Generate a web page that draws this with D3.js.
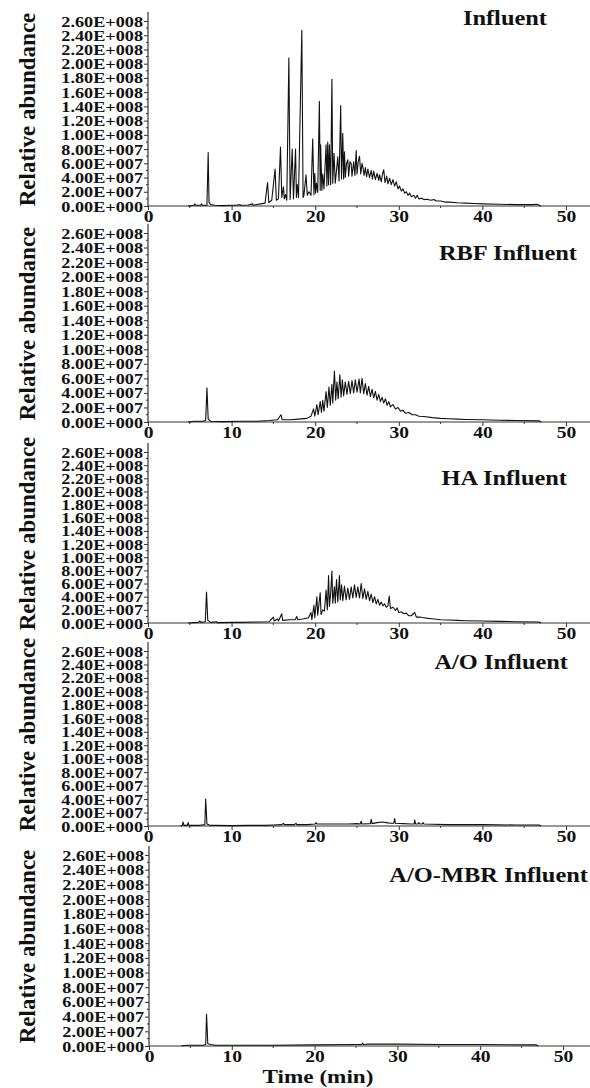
<!DOCTYPE html>
<html>
<head>
<meta charset="utf-8">
<script src="https://cdn.jsdelivr.net/npm/d3@7"></script>
<style>
  body { margin: 0; background: #fff; }
  svg text { font-family: "Liberation Serif", "Times New Roman", serif; font-weight: bold; fill: #111; }
</style>
</head>
<body>
<svg id="chart" width="590" height="1088"></svg>
<script>
// values are in units of 1e7 (relative abundance), time in minutes
const influent = [
  [4.8,0],[5.5,0.1],[5.6,0.3],[5.7,0.1],[6.3,0.1],[6.4,0.3],[6.5,0.1],[7.05,0.1],[7.2,7.5],[7.3,0.5],[7.5,0.2],
  [8,0.1],[9,0.05],[10,0.1],[10.5,0.1],[11,0.2],[11.1,0.1],[12,0.15],[12.5,0.3],[12.6,0.1],[13,0.2],[13.5,0.3],
  [14,0.4],[14.3,3.3],[14.45,0.5],[14.8,0.8],[15.2,5.2],[15.35,0.8],[15.6,1.0],[15.85,8.3],[16.0,1.2],[16.2,2.7],
  [16.3,1.0],[16.45,1.6],[16.6,0.8],[16.85,20.8],[17.0,0.9],[17.25,8.0],[17.4,1.0],[17.65,8.0],[17.75,1.2],
  [17.85,3.0],[18.0,1.2],[18.4,24.7],[18.55,1.2],[18.65,1.5],[18.9,4.4],[19.05,1.5],[19.25,2.0],[19.5,1.5],
  [19.7,9.4],[19.85,1.6],[19.95,4.6],[20.05,1.8],[20.15,3.2],[20.3,1.9],[20.5,14.7],[20.6,2.2],[20.65,8.6],
  [20.8,2.2],[20.9,4.5],[21.05,2.4],[21.3,8.6],[21.4,2.8],[21.5,9.0],[21.6,3.0],[21.7,8.6],[21.85,3.0],
  [22.0,17.8],[22.1,3.2],[22.25,7.4],[22.4,3.2],[22.55,5.0],[22.7,6.9],[22.85,3.5],[23.05,14.1],[23.15,3.8],
  [23.3,10.2],[23.4,3.8],[23.5,7.6],[23.6,4.0],[23.75,6.0],[23.9,6.5],[24.0,4.2],[24.15,6.2],[24.3,6.0],
  [24.4,4.2],[24.6,6.2],[24.75,4.3],[24.9,7.8],[25.0,4.5],[25.15,6.2],[25.3,7.0],[25.45,4.5],[25.6,6.0],
  [25.7,5.5],[25.85,4.3],[26.0,5.4],[26.15,4.1],[26.3,5.2],[26.5,4.0],[26.7,5.0],[26.85,3.8],[27.0,4.9],
  [27.2,3.7],[27.4,4.6],[27.6,3.6],[27.7,4.4],[27.9,3.4],[28.05,4.5],[28.2,5.1],[28.35,3.3],[28.55,4.2],
  [28.7,3.1],[28.9,3.9],[29.1,3.0],[29.3,3.7],[29.5,2.8],[29.7,3.4],[29.9,2.4],[30.1,2.8],[30.3,2.1],
  [30.5,2.4],[30.7,1.8],[30.9,2.0],[31.1,1.5],[31.3,1.8],[31.5,1.3],[31.8,1.5],[32.0,1.1],[32.2,1.5],
  [32.4,1.0],[32.7,1.1],[33.0,0.9],[33.4,0.95],[33.8,0.8],[34.2,0.9],[34.5,0.7],[35,0.7],[35.5,0.55],
  [36,0.55],[37,0.45],[38,0.4],[39,0.35],[40,0.3],[42,0.25],[44,0.2],[46,0.2],[46.5,0.25],[46.8,0.1],[47,0]
];
const rbfInfluent = [
  [4.8,0],[5.5,0.1],[6.5,0.1],[6.9,0.2],[7.05,4.7],[7.2,0.4],[7.5,0.1],[9,0.05],[11,0.1],[13,0.1],[14.5,0.2],
  [15.5,0.3],[15.9,1.0],[16.05,0.3],[17,0.3],[18,0.4],[19,0.5],[19.5,0.8],[19.8,1.8],[19.95,0.8],[20.2,2.4],
  [20.35,1.0],[20.6,2.8],[20.75,1.3],[20.9,3.0],[21.05,1.5],[21.3,4.2],[21.45,2.0],[21.65,4.8],[21.8,2.3],
  [22.0,5.2],[22.1,2.6],[22.3,7.0],[22.45,3.0],[22.6,5.5],[22.75,3.2],[22.95,6.5],[23.1,3.4],[23.25,5.8],
  [23.4,3.6],[23.6,5.5],[23.8,3.8],[24.0,5.6],[24.2,3.9],[24.4,5.7],[24.6,4.0],[24.8,5.8],[25.0,4.1],
  [25.25,5.9],[25.4,4.0],[25.6,6.0],[25.8,3.9],[26.0,5.3],[26.2,3.7],[26.4,4.9],[26.6,3.5],[26.8,4.5],
  [27.0,3.3],[27.2,4.2],[27.4,3.0],[27.6,3.8],[27.8,2.8],[28.0,3.4],[28.2,2.6],[28.4,3.2],[28.6,2.3],
  [28.8,2.8],[29.0,2.1],[29.3,2.4],[29.6,1.8],[29.9,2.0],[30.2,1.5],[30.5,1.6],[30.8,1.2],[31.2,1.3],
  [31.6,1.0],[32.0,1.0],[32.4,0.8],[33,0.75],[34,0.6],[35,0.5],[36,0.45],[37,0.4],[38,0.35],[40,0.3],
  [42,0.25],[44,0.2],[46.8,0.15],[47,0]
];
const haInfluent = [
  [4.8,0],[6,0.1],[6.2,0.3],[6.35,0.1],[6.85,0.2],[7.0,4.7],[7.15,0.4],[7.5,0.1],[8.2,0.2],[8.3,0.05],[10,0.1],
  [11,0.1],[13,0.15],[14.5,0.2],[15.0,0.9],[15.1,0.3],[15.5,0.6],[15.6,0.3],[16.0,1.4],[16.1,0.4],[17,0.5],
  [17.6,0.5],[17.8,1.0],[17.9,0.5],[18.5,0.6],[19.2,0.8],[19.5,1.6],[19.6,0.5],[19.85,2.7],[19.95,0.8],
  [20.2,4.0],[20.3,1.2],[20.6,4.6],[20.7,1.3],[20.9,2.0],[21.1,1.8],[21.3,5.0],[21.45,2.0],[21.6,7.2],
  [21.7,2.5],[21.85,4.5],[22.0,7.9],[22.1,3.0],[22.3,5.5],[22.4,3.0],[22.55,6.6],[22.7,3.2],[22.9,7.2],
  [23.0,3.5],[23.15,5.8],[23.3,3.4],[23.5,5.6],[23.7,3.5],[23.9,5.3],[24.1,3.6],[24.3,5.5],[24.5,3.8],
  [24.7,5.8],[24.9,3.9],[25.1,5.5],[25.3,3.8],[25.5,6.0],[25.7,3.7],[25.9,5.2],[26.1,3.6],[26.3,4.8],
  [26.5,3.4],[26.7,4.4],[26.9,3.1],[27.1,4.0],[27.3,2.9],[27.5,3.6],[27.7,2.7],[27.9,3.2],[28.1,2.6],
  [28.3,2.9],[28.5,2.4],[28.7,2.6],[28.85,4.1],[29.0,2.2],[29.3,2.4],[29.6,1.9],[29.8,2.3],[30.0,1.6],
  [30.3,1.7],[30.6,1.4],[30.9,1.5],[31.2,1.1],[31.5,1.1],[31.9,1.6],[32.1,0.9],[32.5,0.9],[33,0.8],
  [33.5,0.7],[34,0.65],[35,0.5],[36,0.45],[37,0.4],[38,0.35],[40,0.3],[42,0.25],[44,0.2],[46.8,0.15],[47,0]
];
const aoInfluent = [
  [3.9,0],[4.1,0.1],[4.2,0.6],[4.3,0.1],[4.7,0.1],[4.8,0.5],[4.9,0.1],[6.2,0.1],[6.8,0.2],[6.9,4.0],
  [7.05,0.3],[7.4,0.1],[8,0.1],[10,0.05],[12,0.1],[14,0.1],[15,0.15],[16,0.2],[16.2,0.4],[16.3,0.2],
  [17.5,0.2],[17.7,0.4],[17.8,0.2],[19,0.2],[20,0.3],[20.1,0.5],[20.2,0.3],[22,0.3],[24,0.3],[25,0.35],
  [25.4,0.3],[25.5,0.7],[25.6,0.3],[26.6,0.35],[26.7,1.0],[26.8,0.35],[27.4,0.5],[28,0.6],[28.5,0.5],
  [29,0.4],[29.4,0.4],[29.5,1.1],[29.6,0.4],[30.5,0.35],[31.5,0.3],[31.85,0.3],[31.9,0.9],[32.0,0.3],
  [32.3,0.3],[32.4,0.5],[32.5,0.3],[32.8,0.3],[32.9,0.5],[33,0.3],[34,0.25],[36,0.2],[40,0.2],[44,0.15],
  [46.8,0.15],[47,0]
];
const aoMbrInfluent = [
  [3.9,0],[4.5,0.1],[6.5,0.1],[6.85,0.2],[6.95,4.3],[7.1,0.3],[7.5,0.2],[8,0.1],[10,0.1],[15,0.1],[20,0.15],
  [25,0.2],[25.7,0.2],[25.8,0.4],[25.9,0.2],[26.5,0.25],[30,0.25],[35,0.2],[40,0.2],[46.8,0.15],[47,0]
];

const panelTitles = ["Influent", "RBF Influent", "HA Influent", "A/O Influent", "A/O-MBR Influent"];
const panelSeries = [influent, rbfInfluent, haInfluent, aoInfluent, aoMbrInfluent];
const xTickValues = [0, 10, 20, 30, 40, 50];
const yTickValues = [0, 2, 4, 6, 8, 10, 12, 14, 16, 18, 20, 22, 24, 26];

// pixel layout of each panel (the original figure is a stack of unequal images)
const layout = [
  { top: 21,  zero: 206,  x0: 148, x50: 566, titleX: 547, titleY: 25 },
  { top: 233, zero: 422,  x0: 148, x50: 566, titleX: 577, titleY: 260 },
  { top: 452, zero: 623,  x0: 148, x50: 566, titleX: 567, titleY: 485 },
  { top: 651, zero: 826,  x0: 148, x50: 566, titleX: 568, titleY: 669 },
  { top: 855, zero: 1046, x0: 149, x50: 563, titleX: 588, titleY: 882 }
];

const STRETCH = 1.22;
const svg = d3.select("#chart");

function stretch(sel, k) {
  sel.each(function () {
    const w = this.getComputedTextLength();
    this.setAttribute("textLength", w * k);
    this.setAttribute("lengthAdjust", "spacingAndGlyphs");
  });
}

function sci(v) {
  const s = (v * 1e7).toExponential(2);
  const [m, e] = s.split("e");
  const sign = e[0] === "-" ? "-" : "+";
  const digits = e.replace(/[+-]/, "").padStart(3, "0");
  return m + "E" + sign + digits;
}

panelSeries.forEach((data, i) => {
  const L = layout[i];
  const x = d3.scaleLinear().domain([0, 50]).range([L.x0, L.x50]);
  const y = d3.scaleLinear().domain([0, 26]).range([L.zero, L.top]);
  const g = svg.append("g");

  // y axis
  const yAxis = g.append("g").attr("transform", `translate(${L.x0},0)`)
    .call(d3.axisLeft(y).tickValues(yTickValues).tickSize(4).tickFormat(sci));
  yAxis.select(".domain").attr("d", `M0,${L.zero}V${L.top - 9}`);
  yAxis.selectAll("line").attr("stroke", "#333");
  yAxis.select(".domain").attr("stroke", "#333").attr("stroke-width", 1.2);
  yAxis.selectAll("text").attr("font-size", 14).attr("x", -5).attr("dy", "0.36em")
    .style("font-family", "Liberation Serif").style("font-weight", "bold").attr("fill", "#111");
  stretch(yAxis.selectAll("text"), 1.3);
  g.append("g").selectAll("line").data(d3.range(1, 26, 2)).join("line")
    .attr("x1", L.x0 - 2).attr("x2", L.x0).attr("y1", d => y(d)).attr("y2", d => y(d))
    .attr("stroke", "#333");

  // x axis
  const xAxis = g.append("g").attr("transform", `translate(0,${L.zero})`)
    .call(d3.axisBottom(x).tickValues(xTickValues).tickSize(4).tickFormat(d3.format("d")));
  xAxis.select(".domain").attr("d", `M${L.x0},0H590`).attr("stroke", "#333").attr("stroke-width", 1.2);
  xAxis.selectAll("line").attr("stroke", "#333");
  xAxis.selectAll("text").attr("font-size", 16).attr("y", 5)
    .style("font-family", "Liberation Serif").style("font-weight", "bold").attr("fill", "#111");
  stretch(xAxis.selectAll("text"), STRETCH);
  g.append("g").selectAll("line").data([5, 15, 25, 35, 45]).join("line")
    .attr("x1", d => x(d)).attr("x2", d => x(d)).attr("y1", L.zero).attr("y2", L.zero + 2)
    .attr("stroke", "#333");

  // chromatogram trace
  g.append("path").datum(data)
    .attr("fill", "none").attr("stroke", "#111").attr("stroke-width", 1.1)
    .attr("stroke-linejoin", "round")
    .attr("d", d3.line().x(d => x(d[0])).y(d => y(d[1])));

  // titles
  const title = g.append("text").attr("x", L.titleX).attr("y", L.titleY)
    .attr("text-anchor", "end").attr("font-size", 20).text(panelTitles[i]);
  stretch(title, STRETCH);

  g.append("text")
    .attr("transform", `translate(35,${(L.top + L.zero) / 2 - 4}) rotate(-90)`)
    .attr("text-anchor", "middle").attr("font-size", 23).text("Relative abundance");
});

const xl = svg.append("text").attr("x", 318).attr("y", 1083)
  .attr("text-anchor", "middle").attr("font-size", 19).text("Time (min)");
stretch(xl, STRETCH);
</script>
</body>
</html>
